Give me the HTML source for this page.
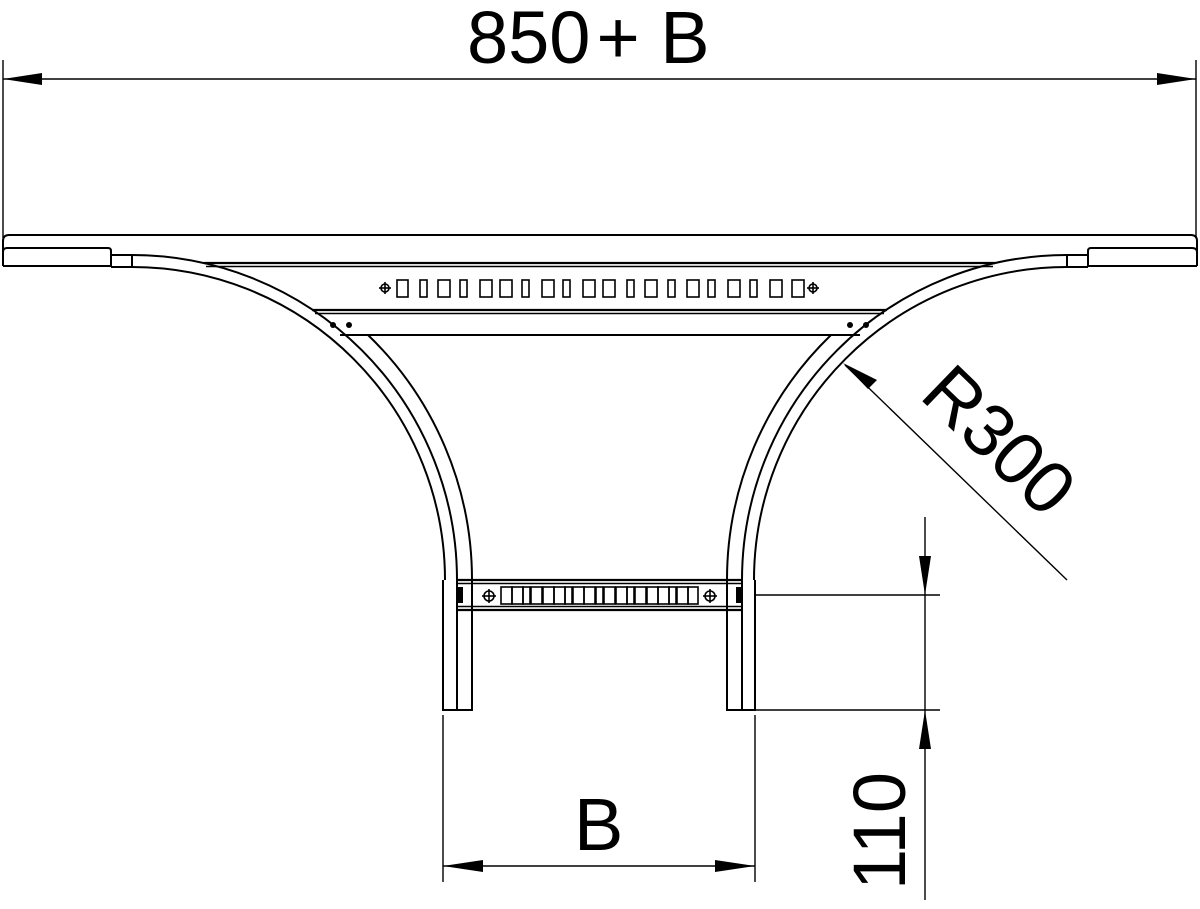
<!DOCTYPE html>
<html><head><meta charset="utf-8"><style>
html,body{margin:0;padding:0;background:#fff;}
svg{display:block;}
text{font-family:"Liberation Sans",sans-serif;fill:#000;}
</style></head><body>
<svg width="1200" height="909" viewBox="0 0 1200 909" xmlns="http://www.w3.org/2000/svg">
<g fill="none" stroke="#000" stroke-width="2">
<!-- top dimension -->
<line x1="3" y1="60" x2="3" y2="238" stroke-width="1.4"/>
<line x1="1196" y1="60" x2="1196" y2="238" stroke-width="1.4"/>
<line x1="3" y1="79" x2="1196" y2="79" stroke-width="1.4"/>
<!-- top rail -->
<path d="M3,266 V241 Q3,235 9,235 H1191 Q1197,235 1197,241 V266"/>
<path d="M3,266 H111 V251 Q111,248 108,248 H7 Q3,248 3,252" />
<path d="M1197,266 H1088 V251 Q1088,248 1091,248 H1192 Q1197,248 1197,252"/>
<path d="M111,255 H132 V267 H111"/>
<path d="M1088,255 H1067 V267 H1088"/>
<!-- arcs left (center 132,580) -->
<path d="M132,255 A325,325 0 0 1 457,580"/>
<path d="M132,267 A313,313 0 0 1 445,580"/>
<path d="M368,335 A340,340 0 0 1 472,580"/>
<!-- arcs right (center 1067,580) -->
<path d="M1067,255 A325,325 0 0 0 742,580"/>
<path d="M1067,267 A313,313 0 0 0 754,580"/>
<path d="M831,335 A340,340 0 0 0 727,580"/>
<!-- top crossbar -->
<line x1="204" y1="263" x2="995" y2="263" stroke-width="2.2"/>
<line x1="206" y1="266.5" x2="993" y2="266.5" stroke-width="1.4"/>
<line x1="312" y1="310" x2="887" y2="310" stroke-width="2.2"/>
<line x1="315" y1="313.5" x2="884" y2="313.5" stroke-width="1.4"/>
<line x1="340" y1="335" x2="860" y2="335"/>
<!-- legs -->
<path d="M443,580 V710 H472 V580"/>
<line x1="457" y1="580" x2="457" y2="710"/>
<path d="M755,580 V710 H727 V580"/>
<line x1="742" y1="580" x2="742" y2="710"/>
<!-- bottom crossbar -->
<line x1="457" y1="580" x2="742" y2="580" stroke-width="2.2"/>
<line x1="457" y1="583.5" x2="742" y2="583.5" stroke-width="1.4"/>
<line x1="457" y1="606.5" x2="742" y2="606.5" stroke-width="1.4"/>
<line x1="457" y1="610" x2="742" y2="610" stroke-width="2.2"/>
<!-- right dims -->
<line x1="925" y1="517" x2="925" y2="900" stroke-width="1.4"/>
<line x1="755" y1="595" x2="940" y2="595" stroke-width="1.4"/>
<line x1="755" y1="710" x2="940" y2="710" stroke-width="1.4"/>
<!-- B dims -->
<line x1="443" y1="715" x2="443" y2="882" stroke-width="1.4"/>
<line x1="755" y1="715" x2="755" y2="882" stroke-width="1.4"/>
<line x1="443" y1="866" x2="755" y2="866" stroke-width="1.4"/>
<!-- R300 leader -->
<line x1="845" y1="365" x2="1067" y2="580" stroke-width="1.4"/>
</g>
<g fill="#000">
<polygon points="3,79 42,73 42,85"/>
<polygon points="1196,79 1157,73 1157,85"/>
<polygon points="443,866 483,860 483,872"/>
<polygon points="755,866 715,860 715,872"/>
<polygon points="925,595 919,556 931,556"/>
<polygon points="925,710 919,749 931,749"/>
<polygon points="843,363 877,380 868,389"/>
<circle cx="333" cy="325" r="3"/><circle cx="349" cy="325" r="3"/>
<circle cx="850" cy="325" r="3"/><circle cx="866" cy="325" r="3"/>
<rect x="458" y="587" width="5" height="16"/>
<rect x="736" y="587" width="5" height="16"/>
</g>
<g fill="none" stroke="#000" stroke-width="1.6">
<!-- top slots -->
<rect x="397" y="280" width="11" height="17"/><rect x="420" y="280" width="7" height="17"/>
<rect x="438" y="280" width="12" height="17"/><rect x="460" y="280" width="7" height="17"/>
<rect x="480" y="280" width="12" height="17"/><rect x="500" y="280" width="12" height="17"/>
<rect x="522" y="280" width="7" height="17"/><rect x="542" y="280" width="12" height="17"/>
<rect x="563" y="280" width="7" height="17"/><rect x="583" y="280" width="12" height="17"/>
<rect x="603" y="280" width="12" height="17"/><rect x="627" y="280" width="7" height="17"/>
<rect x="645" y="280" width="12" height="17"/><rect x="668" y="280" width="7" height="17"/>
<rect x="687" y="280" width="12" height="17"/><rect x="708" y="280" width="7" height="17"/>
<rect x="728" y="280" width="12" height="17"/><rect x="750" y="280" width="7" height="17"/>
<rect x="770" y="280" width="12" height="17"/><rect x="792" y="280" width="12" height="17"/>
<circle cx="385" cy="288" r="4"/><line x1="379" y1="288" x2="391" y2="288"/><line x1="385" y1="282" x2="385" y2="294"/>
<circle cx="813" cy="288" r="4"/><line x1="807" y1="288" x2="819" y2="288"/><line x1="813" y1="282" x2="813" y2="294"/>
<!-- bottom slots -->
<rect x="501" y="587" width="11" height="17"/><rect x="512" y="587" width="11" height="17"/>
<rect x="523" y="587" width="7" height="17"/><rect x="531" y="587" width="11" height="17"/>
<rect x="543" y="587" width="11" height="17"/><rect x="554" y="587" width="11" height="17"/>
<rect x="565" y="587" width="7" height="17"/><rect x="573" y="587" width="11" height="17"/>
<rect x="584" y="587" width="11" height="17"/><rect x="596" y="587" width="7" height="17"/>
<rect x="604" y="587" width="11" height="17"/><rect x="616" y="587" width="11" height="17"/>
<rect x="627" y="587" width="7" height="17"/><rect x="635" y="587" width="11" height="17"/>
<rect x="647" y="587" width="11" height="17"/><rect x="658" y="587" width="11" height="17"/>
<rect x="669" y="587" width="7" height="17"/><rect x="677" y="587" width="11" height="17"/>
<rect x="688" y="587" width="10" height="17"/>
<circle cx="489" cy="596" r="5"/><line x1="482" y1="596" x2="496" y2="596"/><line x1="489" y1="589" x2="489" y2="603"/>
<circle cx="710" cy="596" r="5"/><line x1="703" y1="596" x2="717" y2="596"/><line x1="710" y1="589" x2="710" y2="603"/>
</g>
<text x="467" y="63" font-size="74">850<tspan dx="6">+ B</tspan></text>
<text x="574" y="850" font-size="74">B</text>
<text transform="translate(905,890) rotate(-90)" font-size="74">110</text>
<text transform="translate(918,397) rotate(44)" font-size="74">R300</text>
</svg>
</body></html>
